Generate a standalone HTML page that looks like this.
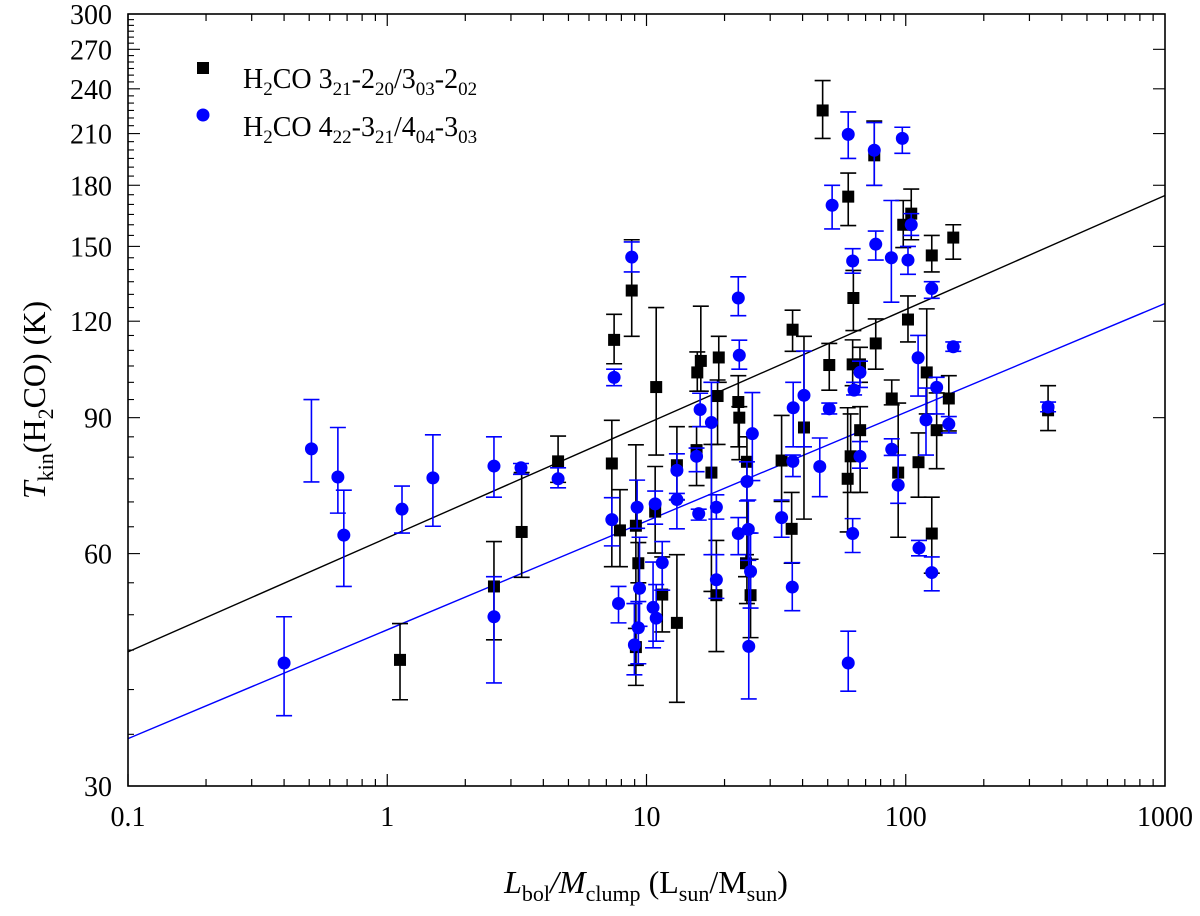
<!DOCTYPE html>
<html><head><meta charset="utf-8"><style>
html,body{margin:0;padding:0;background:#fff;}
svg{display:block;font-family:"Liberation Serif",serif;}
</style></head><body>
<svg id="chart" width="1200" height="916" viewBox="0 0 1200 916" xmlns="http://www.w3.org/2000/svg">
<g id="fits"></g>
<g id="marks"></g>
<g id="axes"></g>
<g>
 <rect x="197" y="62" width="12" height="12" fill="#000"/>
 <text x="243" y="88" font-size="28">H<tspan dy="7" font-size="19">2</tspan><tspan dy="-7">CO 3</tspan><tspan dy="7" font-size="19">21</tspan><tspan dy="-7">-2</tspan><tspan dy="7" font-size="19">20</tspan><tspan dy="-7">/3</tspan><tspan dy="7" font-size="19">03</tspan><tspan dy="-7">-2</tspan><tspan dy="7" font-size="19">02</tspan></text>
 <circle cx="203" cy="115" r="6.5" fill="#0000ff"/>
 <text x="243" y="136" font-size="28">H<tspan dy="7" font-size="19">2</tspan><tspan dy="-7">CO 4</tspan><tspan dy="7" font-size="19">22</tspan><tspan dy="-7">-3</tspan><tspan dy="7" font-size="19">21</tspan><tspan dy="-7">/4</tspan><tspan dy="7" font-size="19">04</tspan><tspan dy="-7">-3</tspan><tspan dy="7" font-size="19">03</tspan></text>
</g>
<text transform="translate(45,400) rotate(-90)" text-anchor="middle" font-size="32"><tspan font-style="italic">T</tspan><tspan dy="8" font-size="22">kin</tspan><tspan dy="-8">(H</tspan><tspan dy="8" font-size="22">2</tspan><tspan dy="-8">CO) (K)</tspan></text>
<text x="646" y="893" text-anchor="middle" font-size="32"><tspan font-style="italic">L</tspan><tspan dy="8" font-size="22">bol</tspan><tspan dy="-8" font-style="italic">/M</tspan><tspan dy="8" font-size="22">clump</tspan><tspan dy="-8"> (L</tspan><tspan dy="8" font-size="22">sun</tspan><tspan dy="-8">/M</tspan><tspan dy="8" font-size="22">sun</tspan><tspan dy="-8">)</tspan></text>
</svg>
<script>
// Black: H2CO 3_21-2_20/3_03-2_02
const blackX  = [1.12,2.58,3.3,4.56,8.77,7.5,10.9,16.2,15.7,19.0,18.8,22.6,22.8,7.35,7.9,9.1,9.3,9.1,11.5,13.1,10.8,13.1,15.6,17.8,18.6,24.4,24.2,25.2,33.2,36.3,40.5,36.6,47.8,60,75.6,97.8,105,126,152.5,62.8,102,76.6,50.7,62.4,66.6,120.5,88.3,146.6,131.6,66.7,61.3,59.7,93.5,112,126,354];
const blackY  = [43.7,54.4,64.0,79.0,131.5,113.5,98.6,106.6,103,107.7,96,94.3,90,78.5,64.3,65.2,58.3,45.4,53.1,48.8,68,78.1,81.7,76.4,53,78.9,58.3,53,79.2,64.6,87.4,117,225,174,196.8,160,165.4,146,154,128.6,120.6,112.3,105.3,105.5,105.5,103,95.3,95.3,86.7,86.7,80.2,75,76.4,78.8,63.7,92];
const blackHi = [48.7,62.2,76.4,85.2,153,122.5,125,125.5,109.5,114.7,100.7,102,93,89.3,72.6,83,62,48,59.4,59.8,77.8,87.6,87.6,83.1,62.4,85,59.8,59,90.6,72,114.7,124,246,186.7,218,172,178,155,160,139.6,129.4,120.8,112.3,113.5,111,124.5,100.7,102,96.9,93,91,92.7,94,86,71,99];
const blackLo = [38.8,46.4,55.9,74.2,114.7,105.7,80.5,97.4,97.4,100,83.1,82.5,79.4,57.7,57.7,40.5,55,43,47.5,38.5,60.1,70.4,73.5,53.6,44.8,51.7,56,46.7,70.1,58.3,66.5,109.7,207,159.6,180,149.5,153,139,144.4,116.7,112.8,104,97.7,99,100,91,93.5,86.5,77.3,72,72,64,63,71,56.6,86.6];
// Blue: H2CO 4_22-3_21/4_04-3_03
const blueX  = [0.4,0.51,0.645,0.68,1.14,1.5,2.58,2.58,3.28,4.56,8.77,7.5,22.6,22.8,16.1,17.8,25.6,36.8,40.5,36.7,33.2,36.5,24.8,25.2,24.7,24.4,22.6,18.6,18.6,15.9,15.6,13.1,13.1,10.8,11.5,9.2,7.35,7.8,9.4,10.6,10.9,9.3,8.98,60,75.6,97,52,76.6,88,102,62.4,105,126,152.5,111.6,66.6,63.2,50.7,131.6,146.6,119.7,46.6,66.6,88.3,93.5,62.4,112.5,126,60,354];
const blueY  = [43.3,82,75.4,63.4,68.5,75.2,77.9,49.7,77.5,75,145.3,101.5,128.6,108.4,92.2,88.7,85.8,92.7,96.2,79,66.8,54.3,45.5,56.9,64.5,74.4,63.7,68.9,55.5,67.6,80.2,76.9,70.5,69.6,58.4,68.9,66.4,51.7,54.1,51.1,49.5,48.1,45.7,209.5,199.8,207,169.6,151,145,144,143.6,160,132.3,111.2,107.6,103,97.7,92.4,98.5,88.3,89.4,77.8,80.2,81.9,73.6,63.7,61,56.7,43.3,92.9];
const blueHi = [49.7,95,87.4,72.5,73.4,85.5,85,56,78.5,77.5,152,104,137,113.4,96.8,100,97,100,109.8,80.5,70.4,58.4,63.8,63.8,70.4,78.9,66.8,71.5,59.8,68.5,82.2,80.8,71.8,72.3,62.2,74.7,70.9,54.4,63,58.5,54.7,52,51.7,224,217,214,180,157,172,150,149,165.4,135,112.8,115,106.5,100,94,101.5,90.3,98.3,84.7,83.8,84.5,80.5,66.6,62.4,59.4,47.6,94.3];
const blueLo = [37,74.3,67.7,54.4,63.8,65.1,71,40.8,76,73,139,99,122,104,87.6,59.8,74.6,82.5,82.5,75.5,63,50.6,38.9,51,58.8,70.2,59.8,66.5,52.5,66.3,76.6,70.5,64.6,65.5,53.8,64.7,61.4,48.8,48.3,45.3,46.2,43.2,41.8,195,180,198,158,144,127,138,138.5,155,128.5,109.7,96,98.5,96.3,91,91,86,80.5,71.1,77.4,80.4,69.7,60.2,59.6,53.7,39.8,91.6];
// Power-law fits T = a * x^b
const fitA = [62.9, 47.8];
const fitB = [0.1478, 0.1409];
const xTicks = [0.1, 1, 10, 100, 1000];
const xTickLabels = ["0.1","1","10","100","1000"];
const yTicks = [30,60,90,120,150,180,210,240,270,300];

const L=128,R=1165,T=14,B=786;
const sx = v => L + (R-L)*(Math.log10(v)+1)/4;
const sy = v => T + (B-T)*(Math.log10(300/v));
const NS="http://www.w3.org/2000/svg";
function mk(tag, attrs, parent){const e=document.createElementNS(NS,tag);for(const k in attrs)e.setAttribute(k,attrs[k]);parent.appendChild(e);return e;}

const fits=document.getElementById('fits');
const fitColors=['#000','#0000ff'];
for(let i=0;i<2;i++){
  const x0=0.1,x1=1000;
  const ln=mk('line',{x1:sx(x0),y1:sy(fitA[i]*Math.pow(x0,fitB[i])),x2:sx(x1),y2:sy(fitA[i]*Math.pow(x1,fitB[i])),stroke:fitColors[i],'stroke-width':1.4},fits);
  
  
}

const marks=document.getElementById('marks');
function series(X,Y,H,Lo,color,isSq,nm){
  const g=mk('g',{},marks);
  
  
  for(let i=0;i<X.length;i++){
    const cx=sx(X[i]),cy=sy(Y[i]),yh=sy(H[i]),yl=sy(Lo[i]);
    const eb=mk('path',{d:`M${cx},${yh}V${yl}M${cx-8},${yh}H${cx+8}M${cx-8},${yl}H${cx+8}`,stroke:color,'stroke-width':1.6,fill:'none'},g);
    
    
    let m;
    if(isSq) m=mk('rect',{x:cx-6,y:cy-6,width:12,height:12,fill:color},g);
    else m=mk('circle',{cx:cx,cy:cy,r:6.5,fill:color},g);
    
    
  }
}
series(blackX,blackY,blackHi,blackLo,'#000',true,'black');
series(blueX,blueY,blueHi,blueLo,'#0000ff',false,'blue');

const ax=document.getElementById('axes');
const fr=mk('rect',{x:L,y:T,width:R-L,height:B-T,fill:'none',stroke:'#000','stroke-width':1.6},ax);


for(let d=-1;d<3;d++){
  for(let k=1;k<10;k++){
    const v=k*Math.pow(10,d);const x=sx(v);const len=k===1?12:7;
    mk('line',{x1:x,y1:B,x2:x,y2:B-len,stroke:'#000','stroke-width':1.2},ax);
    mk('line',{x1:x,y1:T,x2:x,y2:T+len,stroke:'#000','stroke-width':1.2},ax);
  }
}
xTicks.forEach((v,i)=>{
  const t=mk('text',{x:sx(v),y:826,'text-anchor':'middle','font-size':28},ax);
  t.textContent=xTickLabels[i];
  
  
});
for(let v=30;v<=300;v+=5){
  const y=sy(v);const major=(v%30===0);
  mk('line',{x1:L,y1:y,x2:L+(major?12:6),y2:y,stroke:'#000','stroke-width':1.1},ax);
  if(major) mk('line',{x1:R,y1:y,x2:R-12,y2:y,stroke:'#000','stroke-width':1.1},ax);
}
yTicks.forEach(v=>{
  const t=mk('text',{x:112,y:sy(v)+10,'text-anchor':'end','font-size':28},ax);
  t.textContent=String(v);
  
  
});
</script>
</body></html>
